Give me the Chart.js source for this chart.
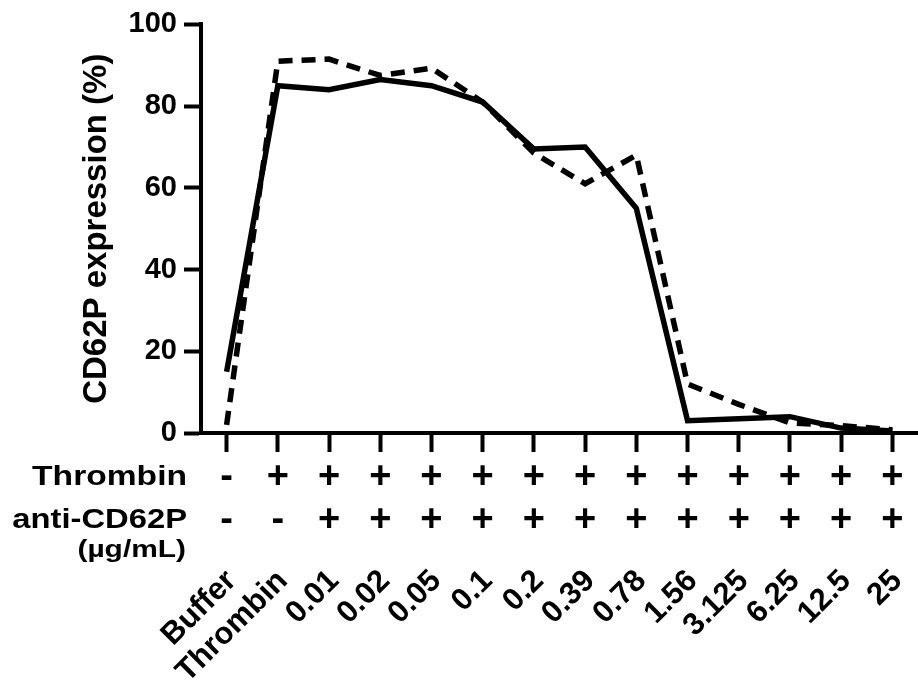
<!DOCTYPE html>
<html>
<head>
<meta charset="utf-8">
<script src="https://cdn.jsdelivr.net/npm/chart.js@4.4.1/dist/chart.umd.min.js"></script>
<style>
  html, body { margin: 0; padding: 0; background: #ffffff; }
  #wrap { width: 918px; height: 684px; position: relative; }
</style>
</head>
<body>
<div id="wrap"><canvas id="chart"></canvas></div>
<script>
// Treatment groups along the x axis (antibody concentrations in µg/mL)
const categories = ['Buffer', 'Thrombin', '0.01', '0.02', '0.05', '0.1', '0.2', '0.39', '0.78', '1.56', '3.125', '6.25', '12.5', '25'];

// CD62P expression (%) for the two replicate experiments
const solidSeries  = [15, 85, 84, 86.5, 85, 81, 69.5, 70, 55, 3, 3.5, 4, 1.2, 0.5];
const dashedSeries = [2, 91, 91.5, 87.5, 89.3, 81, 68.5, 61, 68, 12, 7, 2.5, 1.8, 0.8];

// Treatment table shown under the axis
const thrombinSigns = ['-', '+', '+', '+', '+', '+', '+', '+', '+', '+', '+', '+', '+', '+'];
const antibodySigns = ['-', '-', '+', '+', '+', '+', '+', '+', '+', '+', '+', '+', '+', '+'];

// Y axis ticks
const yTicks = [0, 20, 40, 60, 80, 100];

const FONT = "'Liberation Sans', Arial, Helvetica, sans-serif";

// right-aligned text, widened horizontally by sx
function wideText(ctx, text, xRight, y, sx) {
  ctx.save();
  ctx.translate(xRight, y);
  ctx.scale(sx, 1);
  ctx.fillText(text, 0, 0);
  ctx.restore();
}

// Draws the +/- treatment rows and the rotated group names under the x axis
const treatmentTable = {
  id: 'treatmentTable',
  afterDraw(chart) {
    const ctx = chart.ctx;
    const x = chart.scales.x;
    ctx.save();
    ctx.fillStyle = '#000';

    // row headers
    ctx.textAlign = 'right';
    ctx.textBaseline = 'middle';
    ctx.font = `bold 28px ${FONT}`;
    wideText(ctx, 'Thrombin', 187, 477, 1.2);
    wideText(ctx, 'anti-CD62P', 187, 520, 1.17);
    ctx.font = `bold 23px ${FONT}`;
    wideText(ctx, '(µg/mL)', 186, 551, 1.3);

    // signs
    ctx.textAlign = 'center';
    ctx.font = `bold 38px ${FONT}`;
    categories.forEach((c, i) => {
      const px = x.getPixelForValue(i);
      ctx.fillText(thrombinSigns[i], px, 478);
      ctx.fillText(antibodySigns[i], px, 521);
    });

    // rotated group labels
    ctx.font = `bold 31px ${FONT}`;
    ctx.textAlign = 'right';
    ctx.textBaseline = 'middle';
    categories.forEach((c, i) => {
      const px = x.getPixelForValue(i);
      ctx.save();
      ctx.translate(px + 5, 576);
      ctx.rotate(-Math.PI / 4);
      ctx.fillText(c, 0, 0);
      ctx.restore();
    });
    ctx.restore();
  }
};

new Chart(document.getElementById('chart'), {
  type: 'line',
  data: {
    labels: categories,
    datasets: [
      {
        label: 'Experiment 1',
        data: solidSeries,
        borderColor: '#000',
        borderWidth: 5.5,
        pointRadius: 0,
        tension: 0,
        fill: false,
        borderJoinStyle: 'miter'
      },
      {
        label: 'Experiment 2',
        data: dashedSeries,
        borderColor: '#000',
        borderWidth: 5.5,
        borderDash: [14, 9],
        pointRadius: 0,
        tension: 0,
        fill: false
      }
    ]
  },
  options: {
    responsive: true,
    maintainAspectRatio: false,
    animation: false,
    layout: { padding: { top: 22, right: 0, left: 0, bottom: 0 } },
    plugins: {
      legend: { display: false },
      tooltip: { enabled: false }
    },
    scales: {
      x: {
        type: 'category',
        offset: true,
        grid: {
          offset: false,
          drawOnChartArea: false,
          drawTicks: true,
          tickLength: 19,
          tickWidth: 4,
          tickColor: '#000'
        },
        border: { display: true, width: 4, color: '#000' },
        ticks: { display: false },
        afterFit(scale) { scale.height = 684 - 433; }
      },
      y: {
        min: 0,
        max: 100,
        afterBuildTicks(scale) { scale.ticks = yTicks.map(v => ({ value: v })); },
        grid: {
          drawOnChartArea: false,
          drawTicks: true,
          tickLength: 17,
          tickWidth: 4,
          tickColor: '#000'
        },
        border: { display: true, width: 4, color: '#000' },
        ticks: {
          color: '#000',
          padding: 7,
          font: { family: FONT, size: 29, weight: 'bold' }
        },
        title: {
          display: true,
          text: 'CD62P expression (%)',
          color: '#000',
          padding: { top: 77, bottom: 0 },
          font: { family: FONT, size: 33, weight: 'bold' }
        },
        afterFit(scale) { scale.width = 201; }
      }
    }
  },
  plugins: [treatmentTable]
});
</script>
</body>
</html>
